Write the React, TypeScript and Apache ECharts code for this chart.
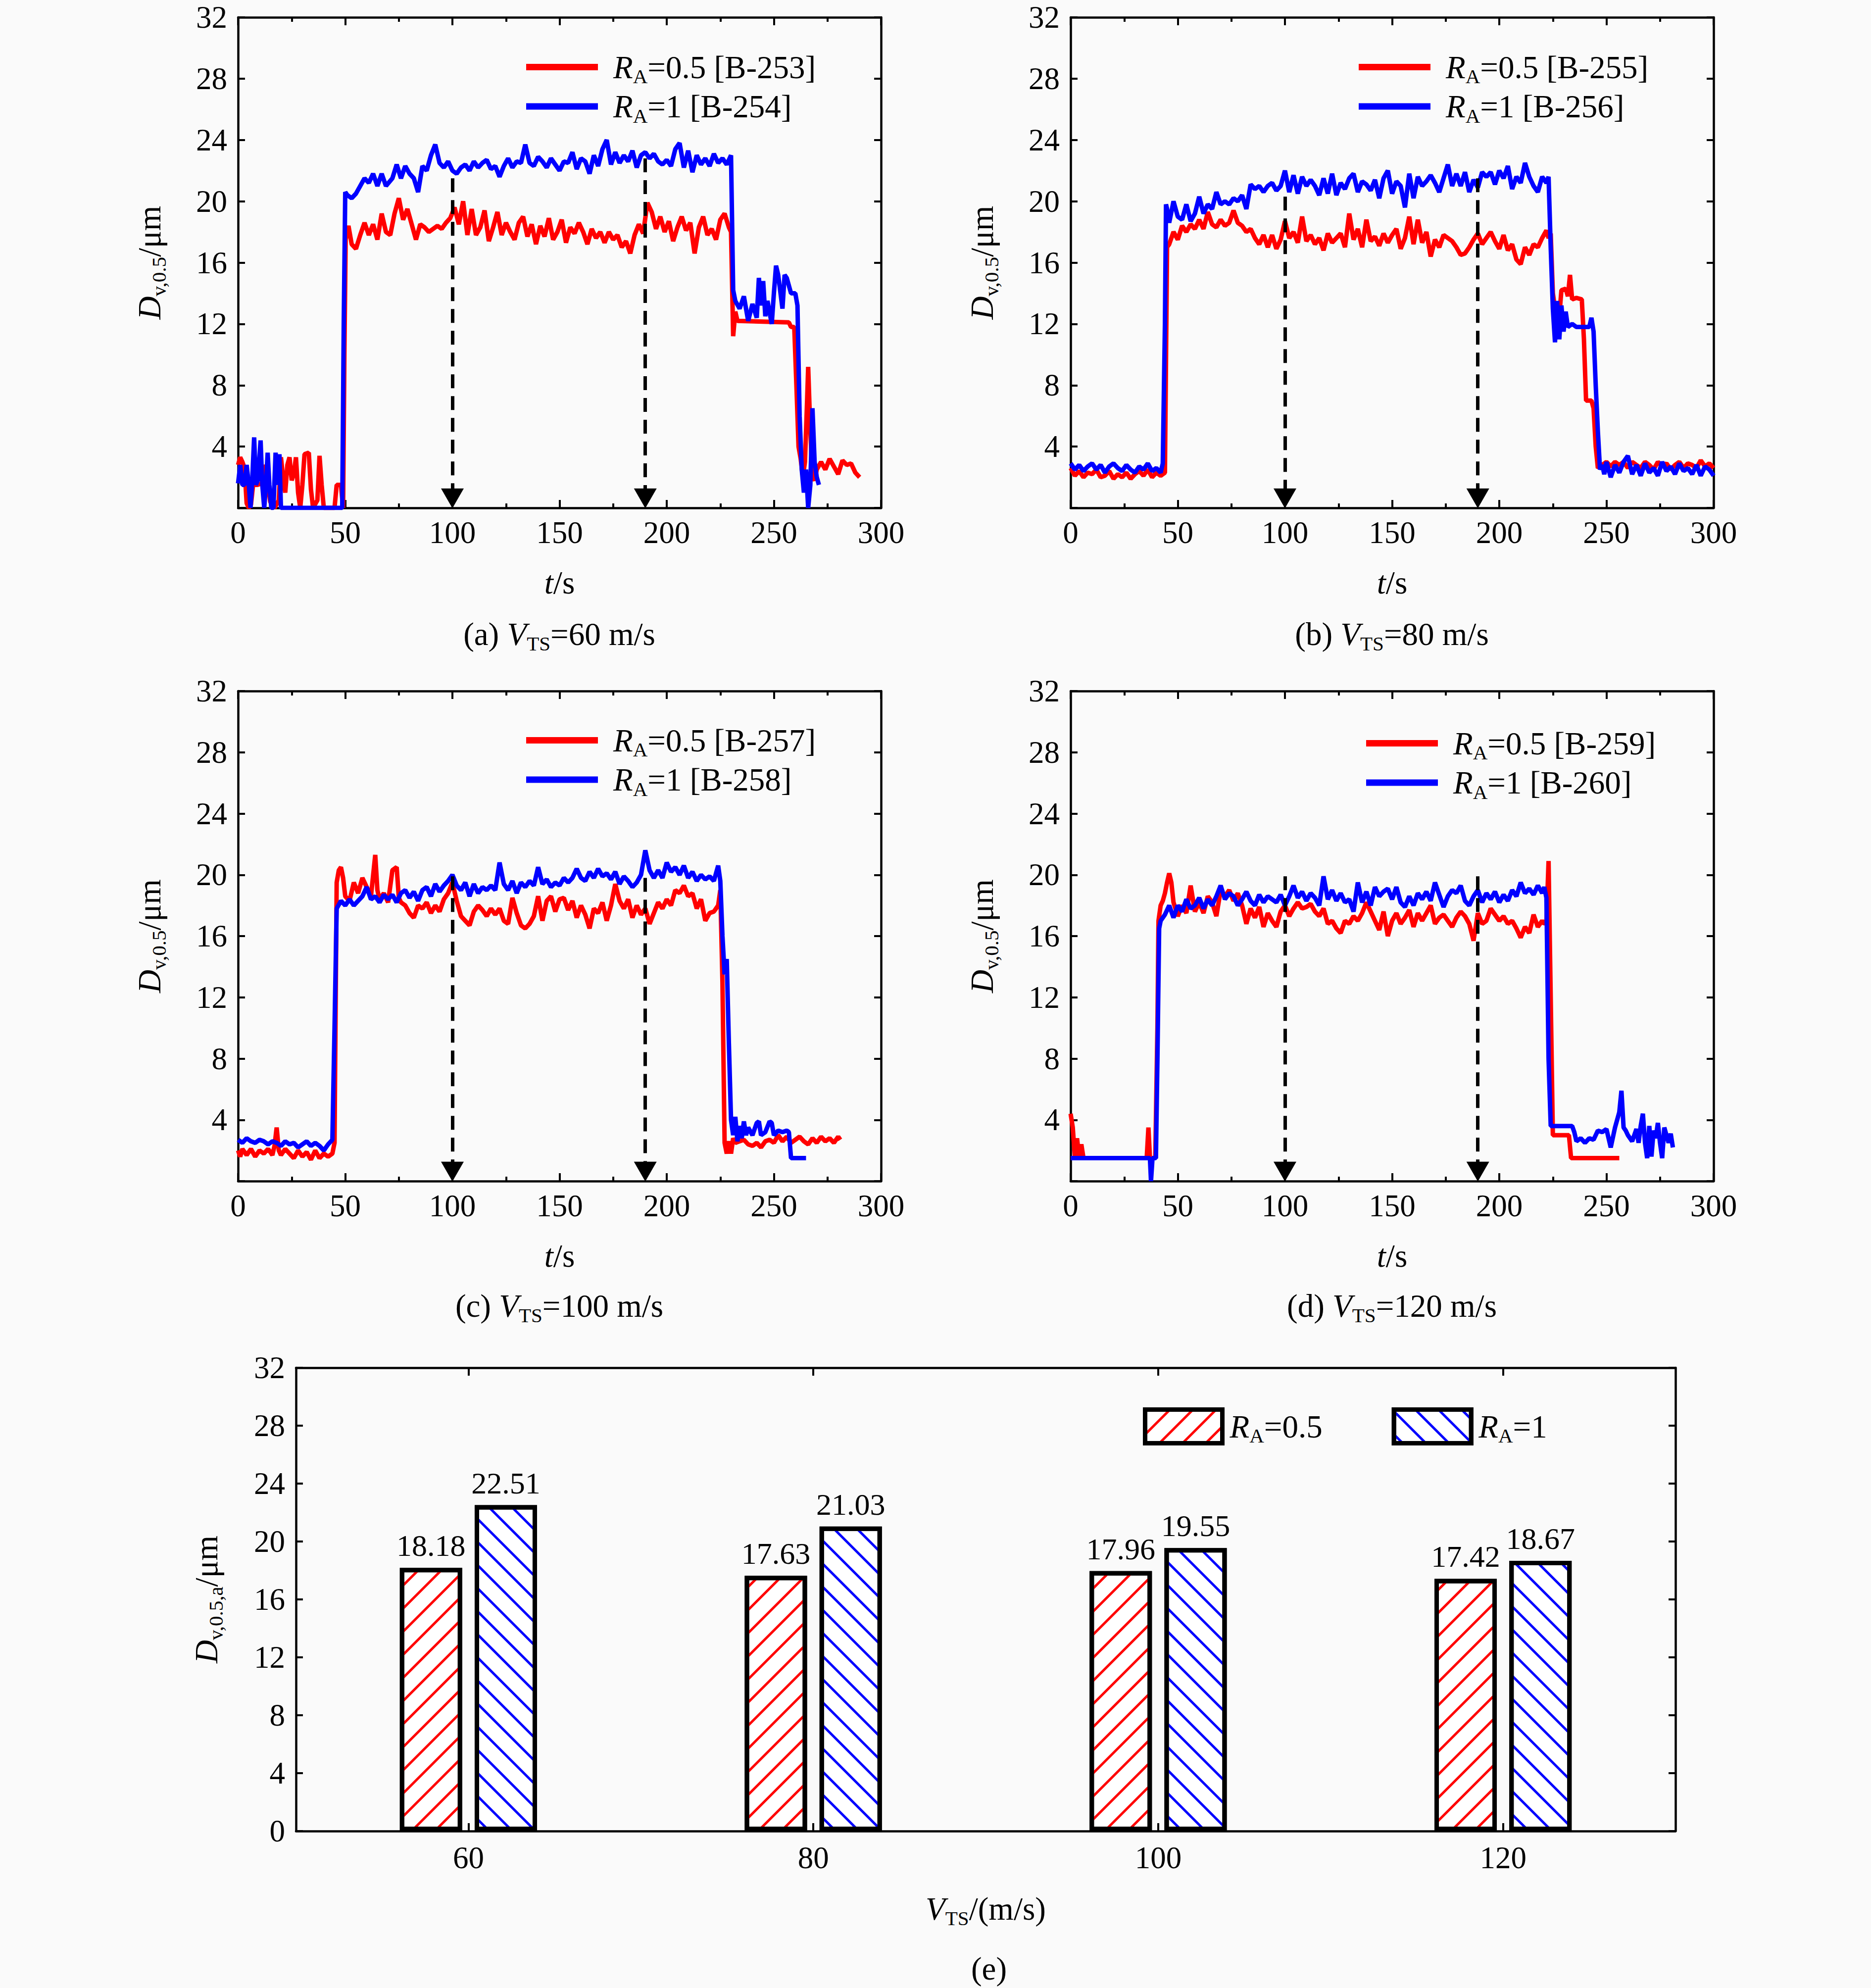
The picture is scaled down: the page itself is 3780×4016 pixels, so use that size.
import React, { useEffect, useRef } from 'react';
import * as echarts from 'echarts';

// ---------------- data ----------------
const seriesNames = [
  ['RA=0.5 [B-253]', 'RA=1 [B-254]'],
  ['RA=0.5 [B-255]', 'RA=1 [B-256]'],
  ['RA=0.5 [B-257]', 'RA=1 [B-258]'],
  ['RA=0.5 [B-259]', 'RA=1 [B-260]'],
];

const aRed: [number, number][] = [[0,2.8],[1,3.3],[2,3.0],[3,2.6],[4,0.3],[5,0],[6,0.2],[7,1.5],[9,1.5],[11,1.6],[13,2.8],[14,1.5],[15,0.4],[17,0],[19,0.5],[20,3.3],[21,2.0],[22,1.0],[23,2.8],[24,3.3],[25,1.8],[26,2.2],[27,3.3],[28,1.0],[29,0],[30,1.5],[31,3.5],[33,3.6],[34,1.2],[35,0],[37,0.5],[38,3.4],[39,1.5],[40,0],[45,0],[46,1.5],[48,1.5],[49,0],[49.6,10],[50.2,17.5],[51.5,18.4],[53,17.2],[55,16.9],[57,17.8],[59,18.6],[61,17.8],[63,18.5],[65,17.5],[67,19.2],[69,18.0],[71,17.8],[73,19.2],[75,20.2],[77,18.8],[79,19.5],[81,18.5],[83,17.5],[85,18.5],[87,18.3],[89,18.0],[91,18.2],[93,18.4],[95,18.2],[97,18.6],[99,18.9],[101,19.6],[103,18.5],[105,20.0],[107,17.8],[109,19.5],[111,17.8],[113,18.3],[115,19.4],[117,17.4],[119,18.3],[121,19.3],[123,17.8],[125,18.6],[127,18.0],[129,17.5],[131,18.6],[133,19.0],[135,17.7],[137,18.5],[139,17.2],[141,18.4],[143,17.7],[145,18.9],[147,17.5],[149,18.0],[151,18.8],[153,17.3],[155,18.3],[157,17.9],[159,18.6],[161,18.0],[163,17.2],[165,18.2],[167,17.6],[169,18.0],[171,17.3],[173,18.0],[175,17.5],[177,17.8],[179,17.0],[181,17.4],[183,16.6],[185,17.8],[187,18.5],[189,17.9],[191,19.9],[193,19.3],[195,18.2],[197,19.0],[199,18.0],[201,18.7],[203,17.4],[205,18.3],[207,19.0],[209,18.1],[211,18.6],[213,16.6],[215,18.3],[217,19.0],[219,17.8],[221,18.2],[223,17.5],[225,18.8],[227,19.2],[229,18.3],[230,18.0],[231,11.2],[232,12.8],[233,12.2],[257,12.1],[258,11.8],[259.5,11.8],[260.5,8],[261.5,4],[262.5,3.2],[263.5,2.0],[264.5,3.0],[265.5,7],[266,9.2],[267,5],[268,2],[269,1.8],[270,2.5],[272,3.0],[274,2.5],[276,3.2],[278,2.7],[280,2.2],[282,3.1],[284,2.8],[286,2.9],[288,2.3],[290,2.0]];

const aBlue: [number, number][] = [[0,1.6],[1,2.8],[2,1.5],[3,1.5],[4,2.8],[5,1.5],[5.8,0],[6.5,1.5],[7.5,4.6],[8.3,1.5],[9.2,1.8],[10.5,4.4],[11.3,1.5],[12.2,0],[13,1.5],[13.8,3.6],[14.6,1.5],[15.5,0],[16.5,0],[17.5,3.6],[18.5,1.5],[19.3,3.5],[20,0],[48.6,0],[49.3,12],[50,20.6],[51,20.4],[53,20.2],[55,20.5],[57,21.0],[59,21.5],[61,21.2],[63,21.8],[65,21.0],[67,21.8],[69,21.0],[72,21.5],[74,22.4],[76,21.5],[78,22.3],[80,21.8],[82,21.5],[84,20.6],[86,22.3],[88,22.0],[90,23.0],[92,23.7],[94,22.5],[96,22.2],[98,22.6],[100,22.0],[102,21.8],[104,22.2],[106,22.4],[108,22.0],[110,22.6],[112,22.2],[114,22.5],[116,22.7],[118,22.1],[120,22.3],[122,21.6],[124,22.3],[126,22.8],[128,22.2],[130,22.6],[132,22.5],[134,23.7],[136,22.5],[138,22.3],[140,22.9],[142,22.6],[144,22.2],[146,22.8],[148,22.4],[150,22.0],[152,22.6],[154,22.5],[156,23.2],[158,22.1],[160,22.8],[162,22.6],[164,21.8],[166,23.0],[168,22.3],[170,23.4],[172,24.0],[174,22.4],[176,23.2],[178,22.5],[180,23.0],[182,22.6],[184,23.3],[186,22.2],[188,23.0],[190,23.2],[192,22.8],[194,23.1],[196,22.6],[198,22.4],[200,22.7],[202,22.3],[204,23.4],[206,23.8],[208,22.2],[210,23.3],[212,21.9],[214,23.0],[216,22.4],[218,22.8],[220,22.3],[222,23.1],[224,22.5],[226,22.8],[228,22.4],[230,23.0],[231,14.2],[232,13.5],[234,13.0],[236,13.8],[238,12.2],[240,13.3],[242,12.4],[243,15.0],[244,13.2],[245,14.8],[246,12.5],[247,13.5],[249,12.0],[250,14.0],[251,15.8],[252,15.2],[254,13.0],[255,15.2],[256,15.0],[258,14.0],[260,14.0],[261,13.2],[262,6],[263,2.5],[264,1.0],[265,2.5],[266,0],[267,1.5],[268,6.5],[269,3],[270,2.0],[271,1.5]];

const bRed: [number, number][] = [[0,2.6],[2,2.1],[4,2.4],[6,2.0],[8,2.3],[10,2.2],[12,2.5],[14,2.0],[16,2.1],[18,2.4],[20,1.9],[22,2.2],[24,2.0],[26,2.3],[28,1.9],[30,2.2],[32,2.4],[34,2.1],[36,2.5],[38,2.0],[40,2.3],[42,2.1],[44,2.3],[45,17.0],[46,17.2],[48,18.0],[50,17.5],[52,18.4],[54,18.0],[56,18.5],[58,18.2],[60,18.8],[62,18.2],[64,19.3],[66,18.5],[68,18.3],[70,18.8],[72,18.4],[74,18.6],[76,19.4],[78,18.6],[80,18.4],[82,18.0],[84,18.2],[86,17.6],[88,17.2],[90,17.8],[92,17.0],[94,17.8],[96,16.9],[98,17.5],[100,18.7],[102,17.6],[104,18.0],[106,17.3],[108,19.0],[110,17.4],[112,17.8],[114,17.2],[116,17.6],[118,16.8],[120,17.9],[122,17.3],[124,17.6],[126,17.9],[128,17.0],[130,19.2],[132,17.5],[134,18.2],[136,17.0],[138,18.8],[140,17.4],[142,17.7],[144,17.1],[146,17.9],[148,17.3],[150,17.8],[152,18.2],[154,16.9],[156,17.6],[158,19.0],[160,17.2],[162,18.8],[164,17.3],[166,18.0],[168,16.4],[170,17.5],[172,17.0],[174,17.8],[176,17.6],[178,17.4],[180,17.0],[182,16.5],[184,16.6],[186,17.0],[188,17.5],[190,17.9],[192,17.2],[194,17.6],[196,18.0],[198,17.4],[200,16.9],[202,17.8],[204,16.8],[206,17.2],[208,16.2],[210,15.9],[212,17.0],[214,16.5],[216,17.2],[218,17.0],[220,17.6],[222,18.1],[223,17.6],[224,17.9],[225,14.0],[226,13],[227,12.2],[228,12.5],[229,14.2],[231,14.3],[232,13.8],[233,15.2],[234,13.6],[236,13.7],[238.5,13.6],[239.5,11],[240.5,7.0],[243,7.0],[244,6.5],[245,4.0],[246,2.6],[248,2.8],[250,3.0],[252,2.7],[254,3.0],[256,2.8],[258,3.0],[260,2.6],[262,3.0],[264,2.8],[266,2.6],[268,3.0],[270,2.8],[272,2.5],[274,3.0],[276,2.7],[278,2.9],[280,2.5],[282,2.8],[284,3.0],[286,2.6],[288,2.9],[290,2.8],[292,2.6],[294,3.1],[296,2.7],[298,2.9],[300,2.6]];

const bBlue: [number, number][] = [[0,2.9],[2,2.5],[4,2.8],[6,2.4],[8,2.7],[10,2.9],[12,2.5],[14,2.8],[16,2.3],[18,2.7],[20,2.9],[22,2.6],[24,2.4],[26,2.8],[28,2.5],[30,2.3],[32,2.7],[34,2.5],[36,2.9],[38,2.4],[40,2.6],[42,2.3],[43,2.9],[44,12],[44.5,19.8],[45,19.5],[46,18.6],[48,20.0],[50,19.0],[52,18.8],[54,19.8],[56,18.7],[58,19.2],[60,20.3],[62,19.2],[64,19.8],[66,19.5],[68,20.6],[70,19.8],[72,20.0],[74,19.8],[76,20.2],[78,20.0],[80,20.4],[82,19.5],[84,21.1],[86,20.8],[88,21.0],[90,20.6],[92,21.0],[94,21.2],[96,20.7],[98,21.0],[100,22.0],[102,20.6],[104,21.7],[106,20.5],[108,21.6],[110,21.0],[112,21.4],[114,21.0],[116,20.4],[118,21.5],[120,20.5],[122,21.8],[124,20.4],[126,21.2],[128,20.8],[130,21.5],[132,21.8],[134,20.6],[136,21.3],[138,21.1],[140,20.7],[142,21.4],[144,20.2],[146,21.5],[148,22.0],[150,20.5],[152,21.3],[154,21.0],[156,19.6],[158,21.8],[160,20.2],[162,21.6],[164,21.0],[166,21.3],[168,21.7],[170,21.2],[172,20.6],[174,21.5],[176,22.4],[178,21.0],[180,21.8],[182,21.0],[184,21.9],[186,20.6],[188,21.4],[190,20.9],[192,21.9],[194,21.6],[196,21.9],[198,21.1],[200,22.0],[202,21.5],[204,22.3],[206,20.8],[208,21.6],[210,21.2],[212,22.5],[214,21.6],[216,21.0],[218,20.6],[220,21.6],[222,21.2],[223,21.6],[224,17],[225,13],[226,10.8],[227,13.5],[228,11.0],[229,13.2],[230,11.5],[231,12.8],[232,11.8],[234,12.0],[236,11.8],[238,11.8],[240,11.8],[242,11.8],[243,12.4],[244,11.5],[245,8],[246,5],[247,2.5],[248,2.8],[249,2.2],[250,3.0],[252,2.0],[254,2.8],[256,2.3],[258,3.0],[260,3.4],[262,2.2],[264,2.8],[266,2.1],[268,2.9],[270,2.3],[272,2.6],[274,2.1],[276,3.0],[278,2.4],[280,2.7],[282,2.2],[284,2.9],[286,2.4],[288,2.6],[290,2.2],[292,2.8],[294,2.1],[296,2.7],[298,2.5],[300,2.1]];

const cRed: [number, number][] = [[0,2.0],[1,1.6],[2,2.1],[4,1.7],[6,2.1],[8,1.6],[10,2.0],[12,1.8],[14,2.1],[16,1.7],[17,2.3],[18,3.5],[19,2.0],[20,1.7],[22,2.1],[24,1.8],[26,1.5],[28,2.0],[30,1.6],[32,1.9],[34,1.4],[36,2.0],[38,1.5],[40,1.8],[42,1.6],[44,1.8],[45,2.5],[46,19.5],[47,20.3],[48,20.5],[49,19.8],[50,18.6],[52,18.3],[54,19.5],[56,18.8],[58,19.8],[60,19.2],[62,18.6],[64,21.3],[65,19.0],[66,18.4],[68,18.8],[70,18.2],[72,20.3],[74,20.5],[75,18.5],[76,18.2],[78,18.0],[80,17.5],[82,17.2],[84,18.0],[86,17.8],[88,18.2],[90,17.5],[92,18.0],[94,17.6],[96,18.4],[98,18.8],[100,19.5],[102,18.3],[104,17.3],[106,17.0],[108,16.7],[110,17.6],[112,18.0],[114,17.7],[116,17.3],[118,17.8],[120,17.4],[122,17.8],[124,17.0],[126,16.8],[128,18.5],[130,17.5],[132,16.7],[134,16.5],[136,16.8],[138,17.3],[140,18.6],[142,17.0],[144,18.3],[146,18.6],[148,17.6],[150,18.4],[152,18.5],[154,17.7],[156,18.3],[158,17.2],[160,18.0],[162,17.4],[164,16.5],[166,17.8],[168,17.5],[170,18.2],[172,17.0],[174,18.0],[176,19.4],[178,18.3],[180,17.8],[182,18.4],[184,17.2],[186,18.0],[188,17.4],[190,17.8],[192,16.8],[194,17.5],[196,18.2],[198,17.8],[200,18.4],[202,18.0],[204,19.0],[206,18.8],[208,19.3],[210,18.6],[212,18.8],[214,17.8],[216,18.4],[218,17.0],[220,17.5],[222,17.6],[224,18.0],[225,19.0],[226,13],[227,2.5],[228,1.8],[229,2.6],[230,1.8],[231,2.8],[232,2.5],[234,2.6],[236,2.7],[238,2.4],[240,2.3],[242,2.5],[244,2.2],[246,2.6],[248,2.7],[250,2.5],[252,3.0],[254,2.6],[256,2.9],[258,2.5],[260,2.7],[262,2.9],[264,2.6],[266,2.4],[268,2.8],[270,2.5],[272,2.9],[274,2.6],[276,2.8],[278,2.5],[280,2.9],[281,2.7]];

const cBlue: [number, number][] = [[0,2.7],[2,2.5],[4,2.8],[6,2.6],[8,2.5],[10,2.7],[12,2.6],[14,2.4],[16,2.6],[18,2.5],[20,2.3],[22,2.6],[24,2.4],[26,2.5],[28,2.2],[30,2.4],[32,2.6],[34,2.3],[36,2.5],[38,2.3],[40,2.0],[42,2.4],[44,2.7],[45,10],[46,17.8],[48,18.3],[50,18.0],[52,18.4],[54,18.0],[56,18.3],[58,18.6],[60,19.2],[62,18.4],[64,18.6],[66,18.2],[68,18.7],[70,18.4],[72,18.7],[74,18.2],[76,18.8],[78,19.0],[80,18.5],[82,18.9],[84,18.3],[86,19.0],[88,19.2],[90,18.6],[92,19.4],[94,18.9],[96,19.3],[98,19.6],[100,20.0],[102,19.3],[104,19.0],[106,19.5],[108,18.6],[110,19.4],[112,18.8],[114,19.2],[116,19.0],[118,19.3],[120,19.0],[122,20.8],[124,19.4],[126,19.0],[128,19.6],[130,18.8],[132,19.5],[134,19.2],[136,19.6],[138,19.3],[140,20.5],[142,19.4],[144,19.7],[146,19.2],[148,19.5],[150,19.3],[152,19.8],[154,19.5],[156,19.8],[158,20.4],[160,19.8],[162,19.6],[164,20.2],[166,19.8],[168,20.4],[170,19.9],[172,20.1],[174,19.7],[176,20.2],[178,19.4],[180,19.9],[182,19.6],[184,19.2],[186,19.5],[188,20.0],[190,21.6],[192,20.3],[194,19.8],[196,20.3],[198,19.8],[200,20.8],[202,20.2],[204,20.5],[206,20.0],[208,20.6],[210,19.8],[212,20.2],[214,19.6],[216,20.0],[218,19.7],[220,19.9],[222,19.6],[224,20.6],[225,19.6],[226,16],[227,13.5],[228,14.5],[229,9],[230,4.0],[231,3.0],[232,4.2],[233,2.6],[234,3.6],[235,2.8],[236,3.9],[237,3.0],[238,3.5],[240,3.0],[242,3.8],[243,3.9],[244,3.0],[246,3.2],[248,3.9],[249,3.8],[250,3.0],[252,3.3],[254,3.2],[256,3.3],[257,3.2],[258,1.5],[265,1.5]];

const dRed: [number, number][] = [[0,4.4],[1,3.5],[2,1.5],[3,2.8],[4,1.5],[5,2.4],[6,1.5],[35.5,1.5],[36.3,3.5],[37,1.5],[39.5,1.5],[40.5,10],[41,17.0],[42,18.0],[43,18.3],[44,18.8],[45,19.5],[46,20.1],[47,19.5],[48,18.2],[50,17.3],[52,18.0],[54,17.5],[56,19.3],[58,17.6],[60,18.2],[62,17.5],[64,18.6],[66,18.2],[68,17.3],[70,19.0],[72,18.6],[74,19.0],[76,18.3],[78,18.8],[80,18.0],[82,16.8],[84,17.8],[86,17.2],[88,17.9],[90,16.6],[92,17.5],[94,17.0],[96,16.6],[98,17.6],[100,18.0],[102,17.3],[104,17.8],[106,18.2],[108,17.8],[110,17.9],[112,18.1],[114,17.6],[116,17.3],[118,17.8],[120,16.8],[122,17.0],[124,16.5],[126,16.2],[128,17.0],[130,16.8],[132,17.3],[134,17.0],[136,17.5],[138,18.2],[140,17.6],[142,17.0],[144,16.4],[146,17.6],[148,16.0],[150,17.0],[152,17.5],[154,16.8],[156,17.2],[158,17.7],[160,16.6],[162,17.5],[164,17.0],[166,17.5],[168,18.0],[170,16.8],[172,17.2],[174,17.4],[176,17.0],[178,16.6],[180,17.2],[182,17.6],[184,17.3],[186,16.8],[188,15.7],[190,17.5],[192,16.8],[194,17.0],[196,17.8],[198,17.4],[200,17.0],[202,17.3],[204,16.8],[206,17.0],[208,16.5],[210,15.9],[212,16.6],[214,16.2],[216,17.4],[218,16.6],[220,17.0],[221,16.8],[222,16.9],[223,20.9],[224,12],[225,3.0],[232.5,3.0],[233.5,1.5],[256,1.5]];

const dBlue: [number, number][] = [[0,1.5],[37,1.5],[37.5,0],[38.2,1.5],[39.8,1.5],[40.5,8],[41.3,16.5],[42,17.0],[44,17.4],[46,18.0],[48,17.2],[50,18.0],[52,17.6],[54,18.4],[56,17.8],[58,18.0],[60,18.5],[62,17.8],[64,18.4],[66,18.0],[68,18.6],[70,19.3],[72,18.4],[74,18.8],[76,18.6],[78,18.0],[80,18.4],[82,18.9],[84,18.3],[86,18.0],[88,18.7],[90,18.2],[92,18.6],[94,18.4],[96,18.2],[98,18.7],[100,18.0],[102,18.6],[104,19.3],[106,18.5],[108,18.9],[110,18.3],[112,18.8],[114,18.5],[116,18.0],[118,19.9],[120,18.4],[122,19.0],[124,18.3],[126,18.8],[128,18.2],[130,18.4],[132,17.6],[134,19.5],[136,18.2],[138,18.9],[140,18.0],[142,19.2],[144,18.6],[146,18.9],[148,19.1],[150,18.4],[152,19.2],[154,18.2],[156,17.9],[158,18.6],[160,18.0],[162,18.8],[164,18.4],[166,18.9],[168,18.3],[170,19.5],[172,18.7],[174,17.9],[176,18.6],[178,19.0],[180,18.8],[182,19.3],[184,18.3],[186,18.0],[188,18.6],[190,19.0],[192,18.2],[194,18.8],[196,18.4],[198,18.9],[200,18.2],[202,18.7],[204,18.3],[206,19.0],[208,18.6],[210,19.5],[212,18.8],[214,19.1],[216,18.7],[218,19.3],[220,18.8],[221,19.2],[222,18.5],[223,8],[224,3.6],[234,3.6],[235,3.2],[236,2.6],[238,2.8],[240,2.5],[242,2.8],[244,2.7],[246,3.3],[248,3.2],[250,3.4],[252,2.2],[254,3.5],[256,4.5],[257,5.9],[258,3.5],[259,3.3],[260,3.0],[261,2.8],[262,2.6],[264,3.4],[265,2.5],[266,3.6],[267,4.4],[268,2.5],[269,1.5],[270,3.6],[271,1.6],[272,3.3],[273,2.8],[274,3.8],[275,2.5],[276,1.5],[277,3.5],[278,3.0],[279,2.5],[280,3.1],[281,2.2]];

const panelData = [[aRed, aBlue], [bRed, bBlue], [cRed, cBlue], [dRed, dBlue]];

// arrows: time positions and top of each dashed arrow (per panel)
const arrowT = [100, 190];
const arrowTop = [[21.5, 22.8], [20.3, 21.5], [19.9, 19.8], [19.9, 19.9]];

// bar panel
const barCategories = ['60', '80', '100', '120'];
const barNames = ['RA=0.5', 'RA=1'];
const barRed = [18.18, 17.63, 17.96, 17.42];
const barBlue = [22.51, 21.03, 19.55, 18.67];

// tick settings
const tMax = 300;
const tStep = 50;
const yMax = 32;
const yStep = 4;

const captions = [
  '{n|(a) }{i|V}{s|TS}{n|=60 m/s}',
  '{n|(b) }{i|V}{s|TS}{n|=80 m/s}',
  '{n|(c) }{i|V}{s|TS}{n|=100 m/s}',
  '{n|(d) }{i|V}{s|TS}{n|=120 m/s}',
  '{n|(e)}',
];

// ---------------- layout / style ----------------
const SERIF = '"Liberation Serif", "Times New Roman", serif';
const RED = '#ff0000';
const BLUE = '#0000ff';

const rich: any = {
  i: { fontFamily: SERIF, fontStyle: 'italic', fontSize: 65, lineHeight: 78, color: '#000' },
  n: { fontFamily: SERIF, fontSize: 65, lineHeight: 78, color: '#000' },
  s: { fontFamily: SERIF, fontSize: 41, lineHeight: 36, verticalAlign: 'bottom', color: '#000' },
};

const GRIDS = [
  { left: 481, top: 35, width: 1299, height: 991 },
  { left: 2163, top: 35, width: 1299, height: 991 },
  { left: 481, top: 1396, width: 1299, height: 990 },
  { left: 2163, top: 1396, width: 1299, height: 990 },
  { left: 598, top: 2763, width: 2787, height: 936 },
];
const LEGEND_POS = [[1058, 98], [2740, 98], [1058, 1458], [2755, 1464]];
const CAPTION_POS = [[1130, 1281], [2812, 1281], [1130, 2638], [2812, 2638], [1998, 3977]];

const axisLine = { show: true, onZero: false, lineStyle: { color: '#000', width: 4.5 } };
const tickStyle = { color: '#000', width: 4 };
const labelStyle = { fontFamily: SERIF, fontSize: 63, color: '#000' };

function legendFormatter(name: string) {
  const rest = name.replace(/^RA/, '');
  return `{i|R}{s|A}{n|${rest}}`;
}

function buildOption() {
  const xAxis: any[] = [];
  const yAxis: any[] = [];
  const series: any[] = [];
  const legend: any[] = [];

  for (let p = 0; p < 4; p++) {
    const common = {
      type: 'value', gridIndex: p, min: 0, max: tMax, interval: tStep,
      axisLine, splitLine: { show: false },
      axisTick: { show: true, inside: true, length: 16, lineStyle: tickStyle },
      minorTick: { show: true, splitNumber: 2, length: 9, lineStyle: tickStyle },
    };
    xAxis.push({
      ...common, position: 'bottom',
      axisLabel: { ...labelStyle, margin: 18 },
      name: '{i|t}{n|/s}', nameLocation: 'middle', nameGap: 112,
      nameTextStyle: { rich },
    });
    xAxis.push({ ...common, position: 'top', axisLabel: { show: false } });
    const ycommon = {
      type: 'value', gridIndex: p, min: 0, max: yMax, interval: yStep,
      axisLine, splitLine: { show: false },
      axisTick: { show: true, inside: true, length: 14, lineStyle: tickStyle },
    };
    yAxis.push({
      ...ycommon, position: 'left',
      axisLabel: { ...labelStyle, margin: 22, formatter: (v: number) => (v === 0 ? '' : String(v)) },
      name: '{i|D}{s|v,0.5}{n|/μm}', nameLocation: 'middle', nameGap: 140, nameRotate: 90,
      nameTextStyle: { rich },
    });
    yAxis.push({ ...ycommon, position: 'right', axisLabel: { show: false } });

    const [red, blue] = panelData[p];
    series.push({
      type: 'line', name: seriesNames[p][0], xAxisIndex: 2 * p, yAxisIndex: 2 * p,
      data: red, showSymbol: false, symbol: 'none', color: RED,
      lineStyle: { color: RED, width: 9 }, z: 2,
    });
    series.push({
      type: 'line', name: seriesNames[p][1], xAxisIndex: 2 * p, yAxisIndex: 2 * p,
      data: blue, showSymbol: false, symbol: 'none', color: BLUE,
      lineStyle: { color: BLUE, width: 9 }, z: 3,
      markLine: {
        silent: true, animation: false,
        symbol: ['none', 'triangle'], symbolSize: [46, 40],
        label: { show: false },
        lineStyle: { color: '#000', width: 7, type: [28, 16] },
        itemStyle: { color: '#000' },
        data: arrowT.map((t, k) => [
          { coord: [t, arrowTop[p][k]] },
          { coord: [t, 0.62] },
        ]),
      },
    });
    legend.push({
      data: seriesNames[p], orient: 'vertical',
      left: LEGEND_POS[p][0], top: LEGEND_POS[p][1],
      icon: 'rect', itemWidth: 145, itemHeight: 13, itemGap: 8,
      formatter: legendFormatter,
      textStyle: { rich, padding: [0, 0, 0, 26] },
      selectedMode: false,
    });
  }

  // bar panel
  const bx = {
    type: 'category', gridIndex: 4, data: barCategories,
    axisLine, splitLine: { show: false },
    axisTick: { show: true, inside: true, length: 16, alignWithLabel: true, lineStyle: tickStyle },
  };
  xAxis.push({
    ...bx, position: 'bottom',
    axisLabel: { ...labelStyle, margin: 22 },
    name: '{i|V}{s|TS}{n|/(m/s)}', nameLocation: 'middle', nameGap: 118,
    nameTextStyle: { rich },
  });
  xAxis.push({ ...bx, position: 'top', axisLabel: { show: false } });
  const by = {
    type: 'value', gridIndex: 4, min: 0, max: yMax, interval: yStep,
    axisLine, splitLine: { show: false },
    axisTick: { show: true, inside: true, length: 14, lineStyle: tickStyle },
  };
  yAxis.push({
    ...by, position: 'left',
    axisLabel: { ...labelStyle, margin: 22 },
    name: '{i|D}{s|v,0.5,a}{n|/μm}', nameLocation: 'middle', nameGap: 142, nameRotate: 90,
    nameTextStyle: { rich },
  });
  yAxis.push({ ...by, position: 'right', axisLabel: { show: false } });

  const barLabel = {
    show: true, position: 'top', distance: 14,
    fontFamily: SERIF, fontSize: 62, color: '#000',
    formatter: (prm: any) => Number(prm.value).toFixed(2),
  };
  series.push({
    type: 'bar', name: barNames[0], xAxisIndex: 8, yAxisIndex: 8,
    data: barRed, barWidth: 126, barGap: '20%',
    itemStyle: {
      color: '#ffffff', borderColor: '#000', borderWidth: 9,
      decal: { symbol: 'rect', symbolSize: 1, color: RED, backgroundColor: '#ffffff', dashArrayX: [1, 0], dashArrayY: [5, 28], rotation: -Math.PI / 4 },
    },
    label: barLabel,
  });
  series.push({
    type: 'bar', name: barNames[1], xAxisIndex: 8, yAxisIndex: 8,
    data: barBlue, barWidth: 126, barGap: '20%',
    itemStyle: {
      color: '#ffffff', borderColor: '#000', borderWidth: 9,
      decal: { symbol: 'rect', symbolSize: 1, color: BLUE, backgroundColor: '#ffffff', dashArrayX: [1, 0], dashArrayY: [5, 28], rotation: Math.PI / 4 },
    },
    label: barLabel,
  });
  legend.push({
    data: barNames, orient: 'horizontal', left: 2304, top: 2838,
    icon: 'rect', itemWidth: 156, itemHeight: 68, itemGap: 140,
    itemStyle: { borderColor: '#000', borderWidth: 9 },
    formatter: legendFormatter,
    textStyle: { rich, padding: [0, 0, 0, 10] },
    selectedMode: false,
  });

  const graphic = captions.map((c, k) => ({
    type: 'text', x: CAPTION_POS[k][0], y: CAPTION_POS[k][1], silent: true,
    style: { text: c, rich, align: 'center', verticalAlign: 'middle', fontFamily: SERIF, fontSize: 65, fill: '#000' },
  }));

  return {
    animation: false,
    backgroundColor: '#fafafa',
    grid: GRIDS,
    xAxis, yAxis, series, legend, graphic,
  };
}

export default function App() {
  const ref = useRef<HTMLDivElement>(null);
  useEffect(() => {
    document.body.style.margin = '0';
    if (!ref.current) return;
    const chart = echarts.init(ref.current, undefined, { renderer: 'svg' });
    chart.setOption(buildOption() as any);
    return () => chart.dispose();
  }, []);
  return <div ref={ref} style={{ width: 3780, height: 4016 }} />;
}
